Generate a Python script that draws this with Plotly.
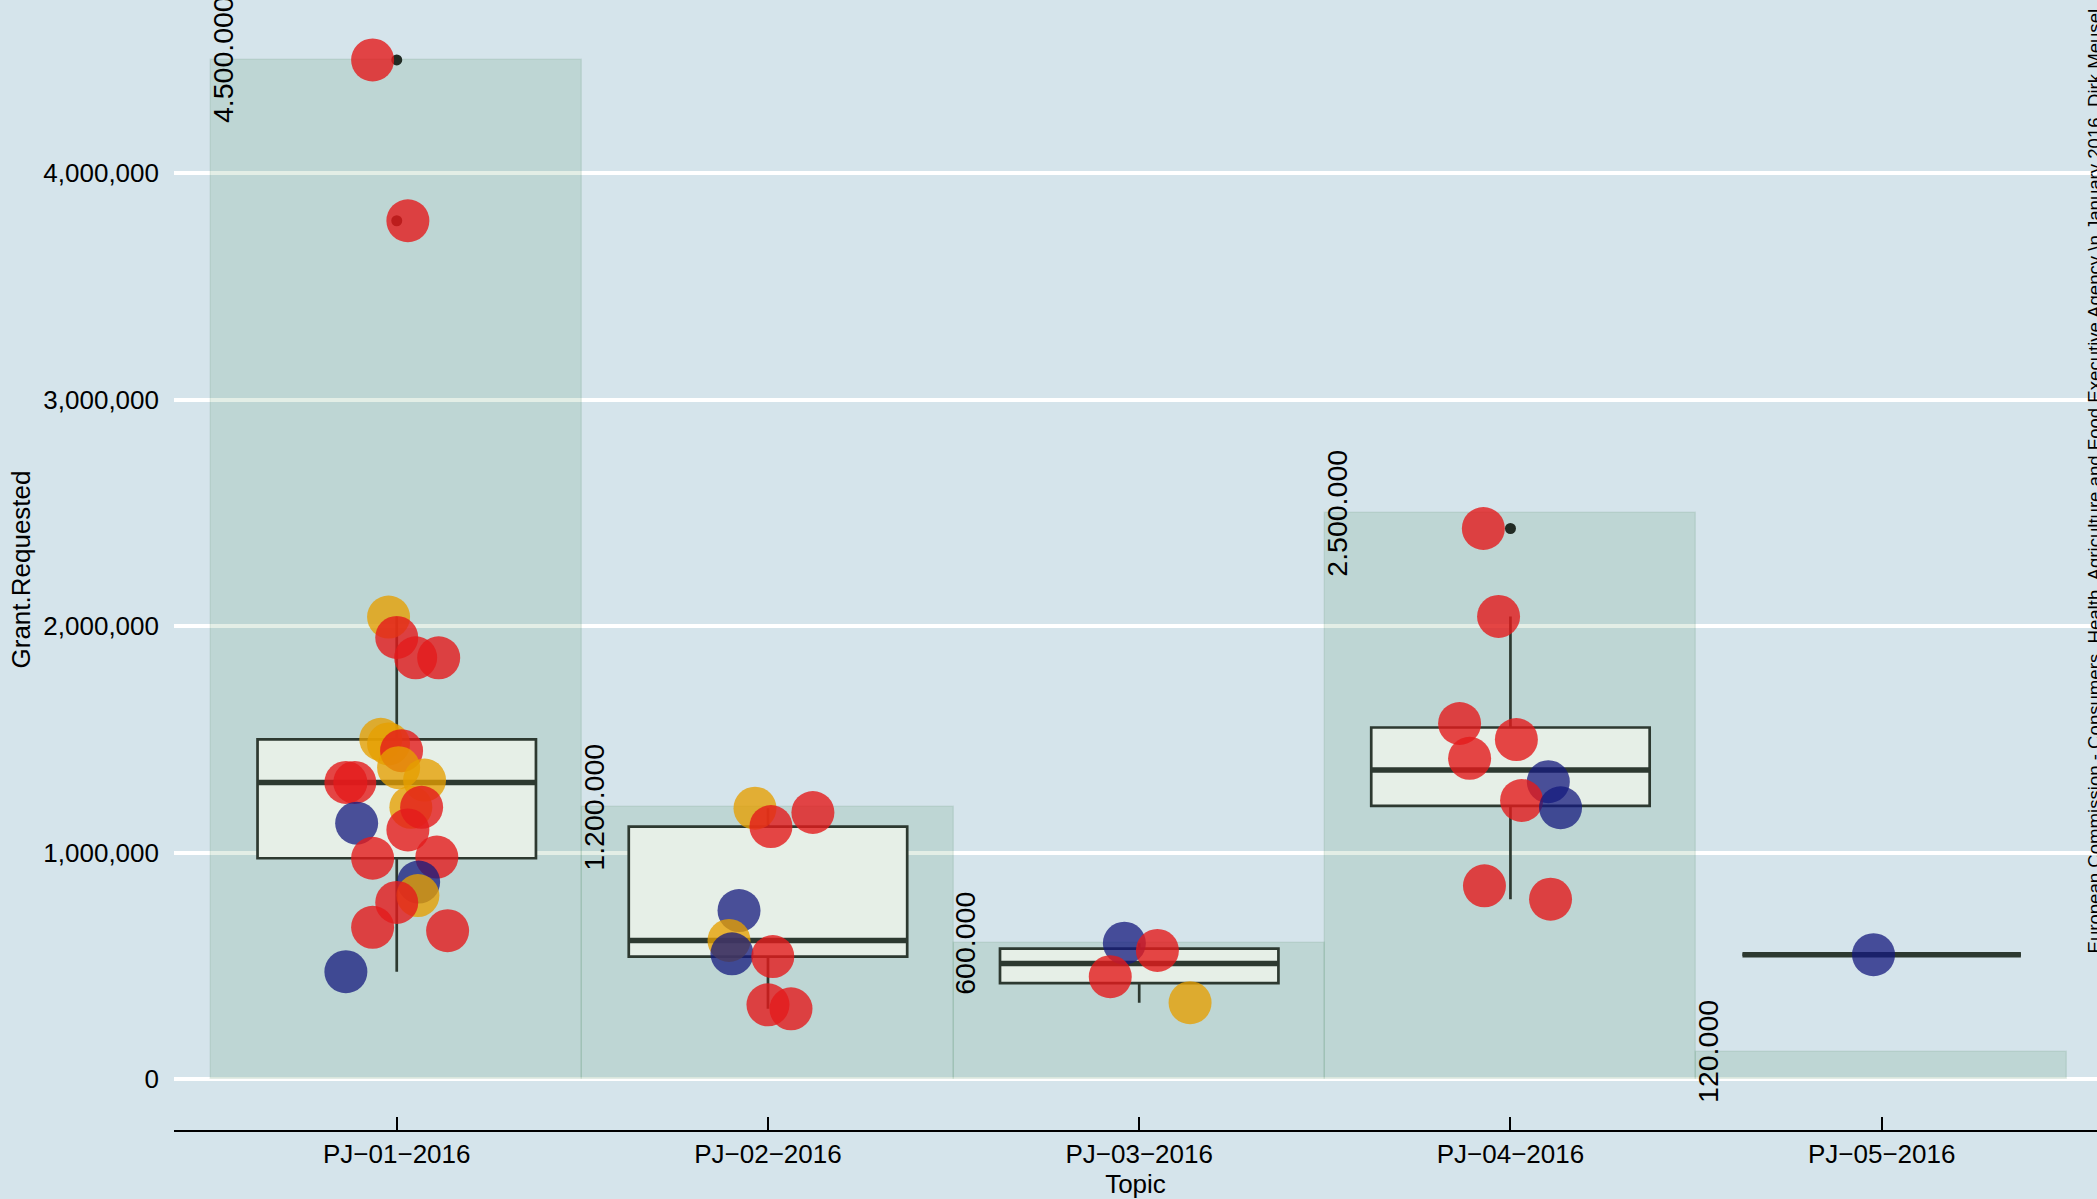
import numpy as np
import plotly.graph_objects as go

# ---------------- data ----------------
topics = ["PJ-01-2016", "PJ-02-2016", "PJ-03-2016", "PJ-04-2016", "PJ-05-2016"]
tick_labels = ["PJ\u221201\u22122016", "PJ\u221202\u22122016", "PJ\u221203\u22122016",
               "PJ\u221204\u22122016", "PJ\u221205\u22122016"]
budget = [4500000, 1200000, 600000, 2500000, 120000]

# Grant requested per proposal, jitter (category units), group colour code
pj01_grant = [4500000, 3790000, 2040000, 1950000, 1860000, 1860000, 1500000, 1480000, 1450000,
              1375000, 1320000, 1310000, 1310000, 1200000, 1200000, 1130000, 1100000, 975000,
              980000, 870000, 810000, 780000, 670000, 655000, 474000]
pj01_jitter = [-0.065, 0.030, -0.022, 0.000, 0.051, 0.113, -0.043, -0.022, 0.013, 0.005, 0.075,
               -0.137, -0.113, 0.038, 0.067, -0.108, 0.030, -0.065, 0.108, 0.059, 0.057, 0.000,
               -0.065, 0.137, -0.137]
pj01_group = ["r", "r", "y", "r", "r", "r", "y", "y", "r", "y", "y", "r", "r", "y", "r", "b",
              "r", "r", "r", "b", "y", "r", "r", "r", "b"]

pj02_grant = [1196000, 1115000, 1177000, 744000, 612000, 553000, 541000, 328000, 310000]
pj02_jitter = [-0.035, 0.008, 0.121, -0.078, -0.105, -0.097, 0.013, 0.000, 0.062]
pj02_group = ["y", "r", "r", "b", "y", "b", "r", "r", "r"]

pj03_grant = [600000, 568000, 452000, 337000]
pj03_jitter = [-0.040, 0.049, -0.078, 0.137]
pj03_group = ["b", "r", "r", "y"]

pj04_grant = [2431000, 2043000, 1570000, 1499000, 1416000, 1313000, 1230000, 1198000, 853000, 794000]
pj04_jitter = [-0.073, -0.032, -0.137, 0.016, -0.110, 0.102, 0.030, 0.135, -0.070, 0.108]
pj04_group = ["r", "r", "r", "r", "r", "b", "r", "b", "r", "r"]

pj05_grant = [549000]
pj05_jitter = [-0.022]
pj05_group = ["b"]

caption = ("European Commission - Consumers, Health, Agriculture and Food Executive Agency "
           "\\n January 2016, Dirk Meusel")

# ---------------- styling ----------------
BG = "#d5e4eb"
FONT = "Liberation Sans, Arial, Helvetica, sans-serif"
group_colors = {"r": "rgba(228,26,28,0.80)", "y": "rgba(230,159,0,0.78)", "b": "rgba(20,25,125,0.75)"}
BOX_LINE = "#2d3930"
BOX_FILL = "#e6efe7"
BOX_W = 0.75

grants = [pj01_grant, pj02_grant, pj03_grant, pj04_grant, pj05_grant]
jitters = [pj01_jitter, pj02_jitter, pj03_jitter, pj04_jitter, pj05_jitter]
groups = [pj01_group, pj02_group, pj03_group, pj04_group, pj05_group]
pos = list(range(1, len(topics) + 1))

# box statistics (R type-7 quantiles == numpy linear)
q1s, meds, q3s, lows, highs = [], [], [], [], []
out_x, out_y = [], []
for p, g in zip(pos, grants):
    a = np.array(g, dtype=float)
    q1, md, q3 = np.percentile(a, [25, 50, 75])
    iqr = q3 - q1
    inside = a[(a >= q1 - 1.5 * iqr) & (a <= q3 + 1.5 * iqr)]
    q1s.append(q1); meds.append(md); q3s.append(q3)
    lows.append(inside.min()); highs.append(inside.max())
    for v in a[(a < q1 - 1.5 * iqr) | (a > q3 + 1.5 * iqr)]:
        out_x.append(p); out_y.append(v)

fig = go.Figure()

# budget bars
fig.add_trace(go.Bar(
    x=pos, y=budget, width=1.0,
    marker=dict(color="rgba(40,120,60,0.13)", line=dict(color="rgba(40,110,60,0.10)", width=1.5)),
    hoverinfo="skip", showlegend=False))

# box plots
fig.add_trace(go.Box(
    x=pos, q1=q1s, median=meds, q3=q3s, lowerfence=lows, upperfence=highs,
    width=BOX_W, whiskerwidth=0, fillcolor=BOX_FILL,
    line=dict(color=BOX_LINE, width=2.7), boxpoints=False, showlegend=False))

# thicker median line
mx, my = [], []
for p, m in zip(pos, meds):
    mx += [p - BOX_W / 2, p + BOX_W / 2, None]
    my += [m, m, None]
fig.add_trace(go.Scatter(x=mx, y=my, mode="lines", line=dict(color=BOX_LINE, width=5.5),
                         hoverinfo="skip", showlegend=False))

# outliers
fig.add_trace(go.Scatter(x=out_x, y=out_y, mode="markers",
                         marker=dict(color="#222b24", size=11), showlegend=False))

# jittered points
px, py, pc = [], [], []
for p, g, j, c in zip(pos, grants, jitters, groups):
    for v, dj, cc in zip(g, j, c):
        px.append(p + dj); py.append(v); pc.append(group_colors[cc])
fig.add_trace(go.Scatter(x=px, y=py, mode="markers",
                         marker=dict(color=pc, size=43, line=dict(width=0)), showlegend=False))

# budget labels
annotations = []
for p, b in zip(pos, budget):
    annotations.append(dict(
        x=p - 0.5, y=b, xref="x", yref="y", text=f"{b:,}".replace(",", "."),
        textangle=-90, showarrow=False, xshift=12,
        font=dict(family=FONT, size=28.5, color="black"),
        xanchor="center", yanchor="middle"))

# caption on the right
L, R, T, B = 174, 0, 9, 69
W, H = 2097, 1199
pw, ph = W - L - R, H - T - B
annotations.append(dict(
    x=(2094 - L) / pw, y=(H - B - 956) / ph, xref="paper", yref="paper",
    text=caption, textangle=-90, showarrow=False,
    xanchor="center", yanchor="bottom",
    font=dict(family=FONT, size=18.6, color="black")))

fig.update_layout(
    width=W, height=H,
    margin=dict(l=L, r=R, t=T, b=B, pad=0),
    paper_bgcolor=BG, plot_bgcolor=BG,
    font=dict(family=FONT, size=26, color="black"),
    bargap=0, showlegend=False,
    annotations=annotations,
    xaxis=dict(
        range=[0.4, 5.58], tickvals=pos, ticktext=tick_labels,
        showline=True, linecolor="black", linewidth=2,
        ticks="inside", ticklen=13, tickwidth=2, tickcolor="black",
        ticklabelstandoff=0,
        showgrid=False, zeroline=False, automargin=False,
        tickfont=dict(family=FONT, size=26, color="black"),
        title=dict(text="Topic", standoff=6, font=dict(family=FONT, size=26, color="black")),
    ),
    yaxis=dict(
        range=[-225000, 4725000], tickvals=[0, 1000000, 2000000, 3000000, 4000000],
        tickformat=",d", showline=False, zeroline=False,
        showgrid=True, gridcolor="white", gridwidth=4,
        ticks="", ticklabelstandoff=14, automargin=False,
        tickfont=dict(family=FONT, size=26, color="black"),
        title=dict(text="Grant.Requested", standoff=5, font=dict(family=FONT, size=26, color="black")),
    ),
)

fig.write_html("out.html", config={"displayModeBar": False},
               post_script="document.body.style.margin='0';document.body.style.overflow='hidden';")
